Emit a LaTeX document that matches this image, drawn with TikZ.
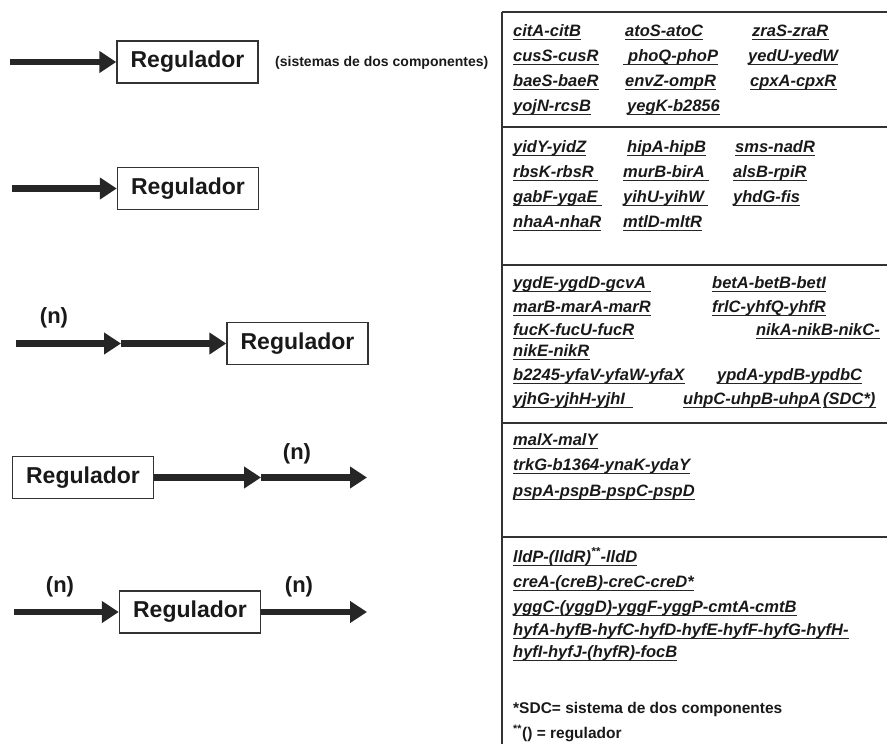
\documentclass[tikz,border=0pt]{standalone}
\usepackage{fontspec}
\setmainfont{Liberation Sans}
\usetikzlibrary{arrows.meta}

\begin{document}
\begin{tikzpicture}[x=1pt,y=-1pt,
    reg/.style={draw=black!80,line width=1.4pt,inner sep=0pt,minimum width=141pt,
      minimum height=42pt,font=\fontsize{23}{26}\selectfont\bfseries,text=black!90},
    flecha/.style={line width=6.5pt,draw=black!85,-{Triangle[length=17pt,width=21pt]}},
    enel/.style={font=\fontsize{22}{24}\selectfont\bfseries,text=black!90,inner sep=0pt},
    gen/.style={anchor=base west,inner sep=0pt,text=black!90,
      font=\fontsize{16.5}{18}\selectfont\bfseries\itshape,
      append after command={([yshift=-3.2pt]\tikzlastnode.base west)
        edge[draw=black!85,line width=1.4pt] ([yshift=-3.2pt]\tikzlastnode.base east)}},
    nota/.style={anchor=base west,inner sep=0pt,text=black!90,
      font=\fontsize{15.5}{18}\selectfont\bfseries},
    raya/.style={draw=black!80,line width=1.6pt}]
    \useasboundingbox (0,0) rectangle (887,744);

    % left column: the five arrangements
    \node[reg] (reg1) at (187.5,62) {Regulador};
    \coordinate (ini1) at (10,62);
    \draw[flecha] (ini1) -- (reg1.west);
    \node[enel,anchor=west,font=\fontsize{14}{16}\selectfont\bfseries] (sdc) at (275,63)
      {(sistemas de dos componentes)};

    \node[reg] (reg2) at (188,188.5) {Regulador};
    \coordinate (ini2) at (12,188.5);
    \draw[flecha] (ini2) -- (reg2.west);

    \node[reg] (reg3) at (297.5,343.5) {Regulador};
    \coordinate (ini3) at (16,343.5);
    \coordinate (mid3) at (121,343.5);
    \draw[flecha] (ini3) -- (mid3);
    \draw[flecha] (mid3) -- (reg3.west);
    \node[enel] (n3) at (54,318) {(n)};

    \node[reg] (reg4) at (83,477.5) {Regulador};
    \coordinate (mid4) at (261,477.5);
    \coordinate (fin4) at (367,477.5);
    \draw[flecha] (reg4.east) -- (mid4);
    \draw[flecha] (mid4) -- (fin4);
    \node[enel] (n4) at (297,454) {(n)};

    \node[reg] (reg5) at (190,612) {Regulador};
    \coordinate (ini5) at (14,612);
    \coordinate (fin5) at (367,612);
    \draw[flecha] (ini5) -- (reg5.west);
    \draw[flecha] (reg5.east) -- (fin5);
    \node[enel] (n5a) at (60,587) {(n)};
    \node[enel] (n5b) at (299,587) {(n)};

    % table frame
    \draw[raya,line width=2.6pt] (502,12) -- (502,744);
    \draw[raya] (502,12) -- (887,12);
    \draw[raya] (502,127) -- (887,127);
    \draw[raya] (502,265) -- (887,265);
    \draw[raya] (502,423) -- (887,423);
    \draw[raya] (502,537) -- (887,537);

    % two component systems
    \node[gen] (g11) at (513,36) {citA-citB};
    \node[gen] (g12) at (625,36) {atoS-atoC};
    \node[gen] (g13) at (752,36) {zraS-zraR};
    \node[gen] (g21) at (513,61) {cusS-cusR};
    \node[gen] (g22) at (623,61) {\kern5pt phoQ-phoP};
    \node[gen] (g23) at (748,61) {yedU-yedW};
    \node[gen] (g31) at (513,86) {baeS-baeR};
    \node[gen] (g32) at (625,86) {envZ-ompR};
    \node[gen] (g33) at (750,86) {cpxA-cpxR};
    \node[gen] (g41) at (513,111) {yojN-rcsB};
    \node[gen] (g42) at (627,111) {yegK-b2856};

    % second group
    \node[gen] (h11) at (513,152) {yidY-yidZ};
    \node[gen] (h12) at (627,152) {hipA-hipB};
    \node[gen] (h13) at (735,152) {sms-nadR};
    \node[gen] (h21) at (513,177) {rbsK-rbsR\kern4pt};
    \node[gen] (h22) at (623,177) {murB-birA\kern4pt};
    \node[gen] (h23) at (733,177) {alsB-rpiR};
    \node[gen] (h31) at (513,202) {gabF-ygaE\kern4pt};
    \node[gen] (h32) at (623,202) {yihU-yihW\kern4pt};
    \node[gen] (h33) at (733,202) {yhdG-fis};
    \node[gen] (h41) at (513,227) {nhaA-nhaR};
    \node[gen] (h42) at (623,227) {mtlD-mltR};

    % third group
    \node[gen] (k11) at (513,288) {ygdE-ygdD-gcvA\kern5pt};
    \node[gen] (k12) at (712,288) {betA-betB-betI};
    \node[gen] (k21) at (513,312) {marB-marA-marR};
    \node[gen] (k22) at (712,312) {frlC-yhfQ-yhfR};
    \node[gen] (k31) at (513,335) {fucK-fucU-fucR};
    \node[gen,anchor=base east] (k32) at (880,335) {nikA-nikB-nikC-};
    \node[gen] (k41) at (513,356) {nikE-nikR};
    \node[gen] (k51) at (513,380) {b2245-yfaV-yfaW-yfaX};
    \node[gen] (k52) at (717,380) {ypdA-ypdB-ypdbC};
    \node[gen] (k61) at (513,404) {yjhG-yjhH-yjhI\kern8pt};
    \node[gen] (k62) at (683,404) {uhpC-uhpB-uhpA};
    \node[gen] (k63) at (823,404) {(SDC*)};

    % fourth group
    \node[gen] (m1) at (513,445) {malX-malY};
    \node[gen] (m2) at (513,470) {trkG-b1364-ynaK-ydaY};
    \node[gen] (m3) at (513,496) {pspA-pspB-pspC-pspD};

    % fifth group
    \node[gen] (p1) at (513,562) {lldP-(lldR)\textsuperscript{**}-lldD};
    \node[gen] (p2) at (513,587) {creA-(creB)-creC-creD*};
    \node[gen] (p3) at (513,612) {yggC-(yggD)-yggF-yggP-cmtA-cmtB};
    \node[gen] (p4) at (513,635) {hyfA-hyfB-hyfC-hyfD-hyfE-hyfF-hyfG-hyfH-};
    \node[gen] (p5) at (513,657) {hyfI-hyfJ-(hyfR)-focB};

    \node[nota] (nota1) at (513,713) {*SDC= sistema de dos componentes};
    \node[nota] (nota2) at (513,738) {\textsuperscript{**}() = regulador};
\end{tikzpicture}
\end{document}
